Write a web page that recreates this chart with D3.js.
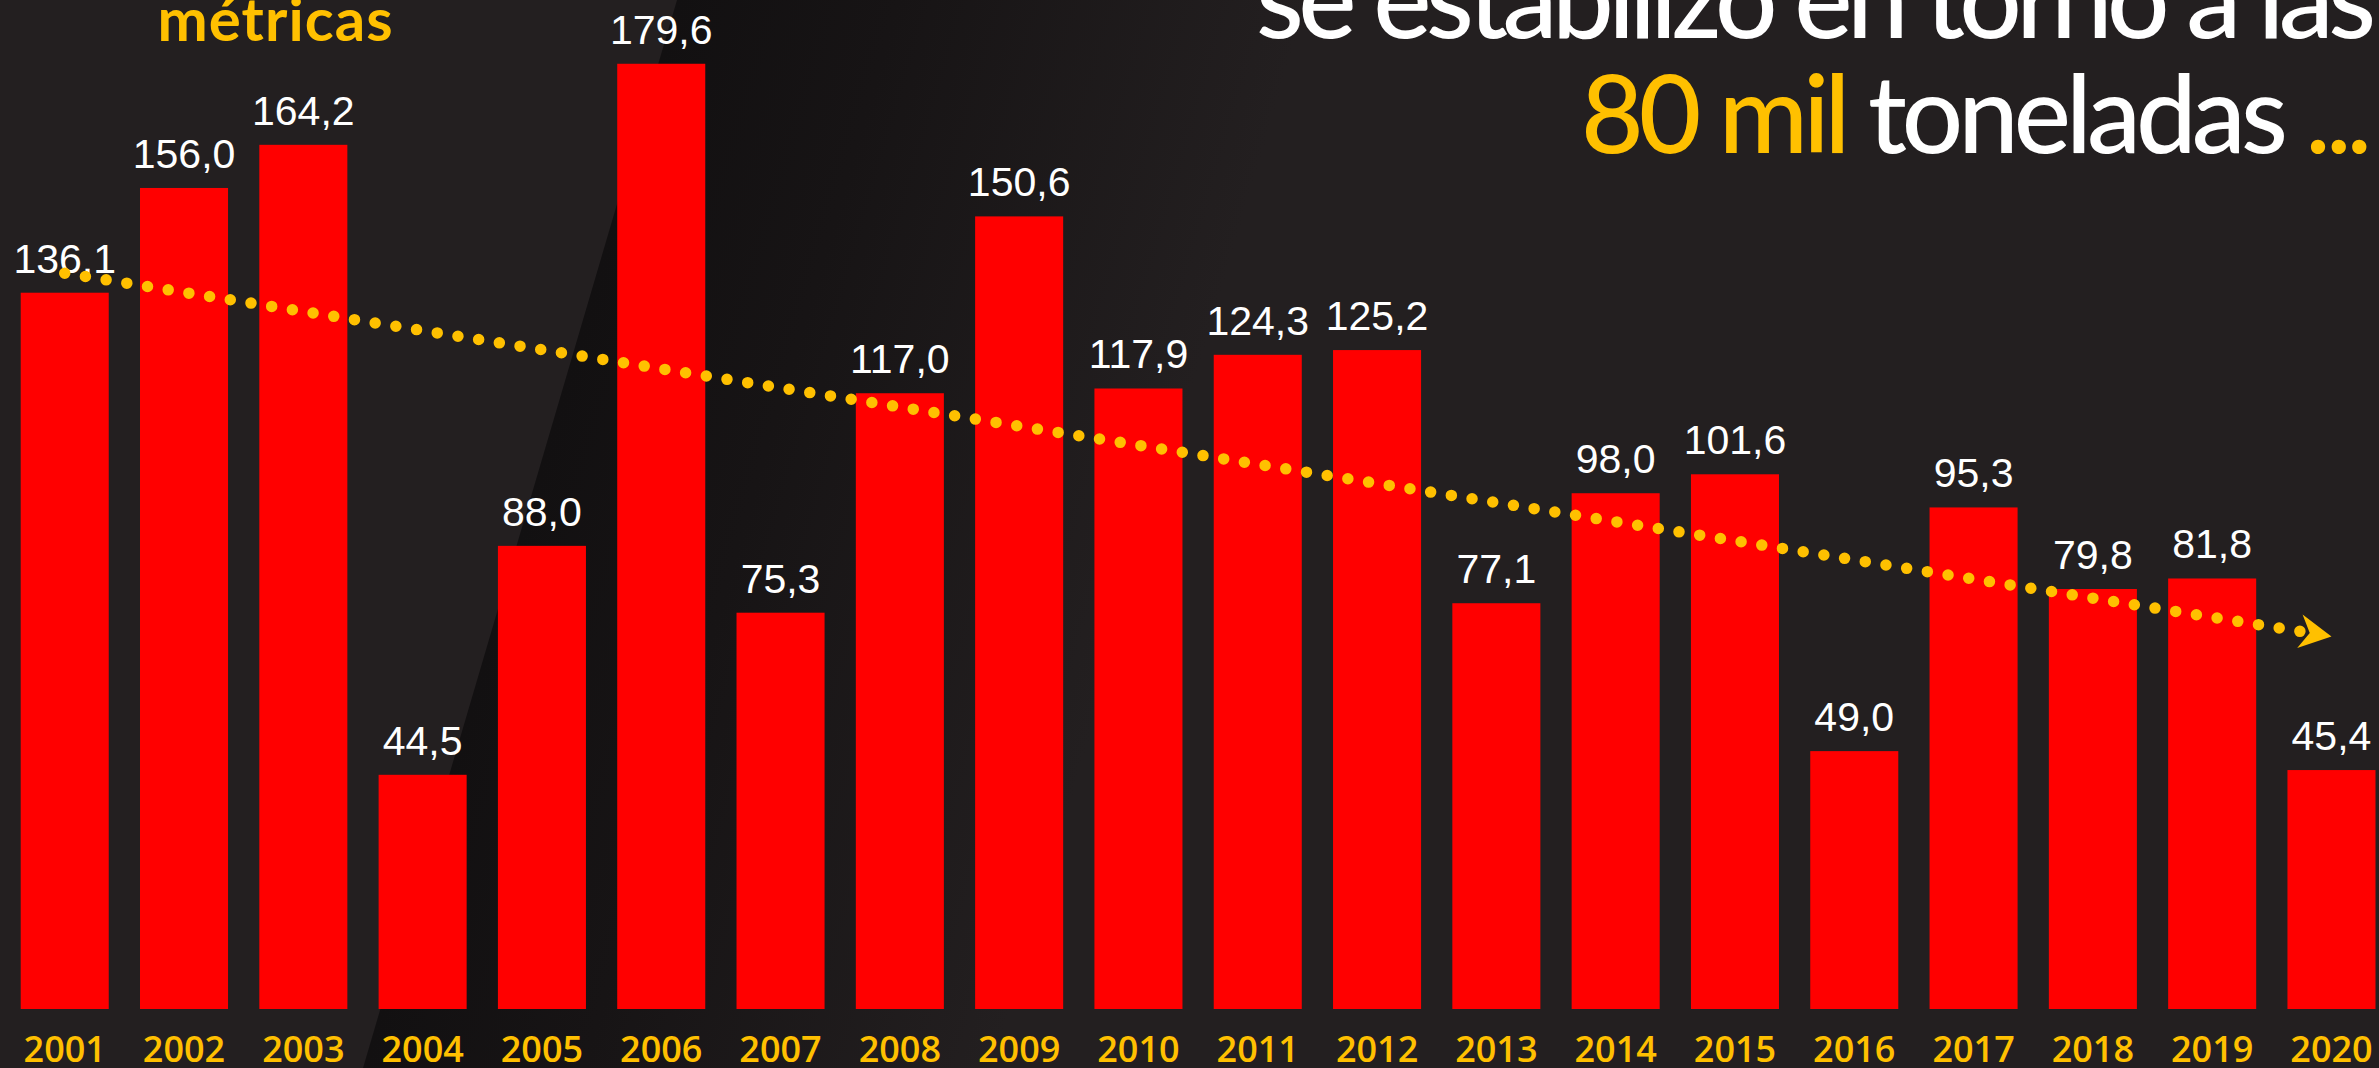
<!DOCTYPE html>
<html>
<head>
<meta charset="utf-8">
<script src="https://cdn.jsdelivr.net/npm/d3@7"></script>
<style>
  html, body { margin: 0; padding: 0; background: #231f20; overflow: hidden; }
  svg { display: block; }
</style>
</head>
<body>
<div id="chart"></div>
<script>
// Data
const years = ["2001", "2002", "2003", "2004", "2005", "2006", "2007", "2008", "2009", "2010",
               "2011", "2012", "2013", "2014", "2015", "2016", "2017", "2018", "2019", "2020"];
const values = [136.1, 156.0, 164.2, 44.5, 88.0, 179.6, 75.3, 117.0, 150.6, 117.9,
                124.3, 125.2, 77.1, 98.0, 101.6, 49.0, 95.3, 79.8, 81.8, 45.4];
// trend line (start 2001, end 2020)
const trendYears = ["2001", "2020"];
const trendValues = [139.8, 70.8];

const titleLeft = "métricas";
const titleRight1 = "se estabilizó en torno a las";
const titleRight2 = [["80 mil", "#ffc000"], [" toneladas ", "#ffffff"], ["...", "#ffc000"]];

const width = 2379, height = 1068;
const yellow = "#ffc000";

const svg = d3.select("#chart")
    .append("svg")
    .attr("width", width)
    .attr("height", height);

// background with dark diagonal band
const defs = svg.append("defs");
const grad = defs.append("linearGradient")
    .attr("id", "band")
    .attr("gradientUnits", "userSpaceOnUse")
    .attr("x1", 520).attr("y1", 534)
    .attr("x2", 1100).attr("y2", 705);
grad.append("stop").attr("offset", 0).attr("stop-color", "#121011");
grad.append("stop").attr("offset", 0.35).attr("stop-color", "#171415");
grad.append("stop").attr("offset", 1).attr("stop-color", "#231f20");

svg.append("rect")
    .attr("width", width).attr("height", height)
    .attr("fill", "#231f20");
svg.append("path")
    .attr("d", "M677,0 L1600,0 L1300,1068 L363,1068 Z")
    .attr("fill", "url(#band)");

// scales
const x = d3.scaleBand()
    .domain(years)
    .range([20.7, 2375.5])
    .paddingInner(0.262)
    .paddingOuter(0);

const y = d3.scaleLinear()
    .domain([0, 200])
    .range([1009, 1009 - 200 * 5.263]);

const locale = d3.formatLocale({ decimal: ",", thousands: ".", grouping: [3], currency: ["", ""] });
const fmt = locale.format(".1f");

// bars
svg.selectAll("rect.bar")
    .data(values)
    .enter().append("rect")
    .attr("class", "bar")
    .attr("x", (d, i) => x(years[i]))
    .attr("y", d => y(d))
    .attr("width", x.bandwidth())
    .attr("height", d => y(0) - y(d))
    .attr("fill", "#ff0000");

// value labels
svg.selectAll("text.val")
    .data(values)
    .enter().append("text")
    .attr("class", "val")
    .attr("x", (d, i) => x(years[i]) + x.bandwidth() / 2)
    .attr("y", d => y(d) - 20)
    .attr("text-anchor", "middle")
    .attr("fill", "#ffffff")
    .style("font-family", "'Liberation Sans', Arial, sans-serif")
    .style("font-size", "41px")
    .text(d => fmt(d));

// x axis labels
const xAxis = svg.append("g")
    .attr("transform", "translate(0,1062)")
    .call(d3.axisBottom(x).tickSize(0).tickPadding(0));
xAxis.select(".domain").remove();
xAxis.selectAll("text")
    .attr("dy", 0)
    .attr("fill", yellow)
    .style("font-family", "'Open Sans', sans-serif")
    .style("font-size", "36px")
    .style("font-weight", 600);

// trend line (dotted) with arrow head
const tx0 = x(trendYears[0]) + x.bandwidth() / 2, ty0 = y(trendValues[0]);
const tx1 = x(trendYears[1]) + x.bandwidth() / 2, ty1 = y(trendValues[1]);
const ang = Math.atan2(ty1 - ty0, tx1 - tx0);
const total = Math.hypot(tx1 - tx0, ty1 - ty0);
const dotLen = total - 32;
const nDots = Math.round(dotLen / 21);
const gap = dotLen / nDots;

svg.append("line")
    .attr("x1", tx0).attr("y1", ty0)
    .attr("x2", tx0 + Math.cos(ang) * dotLen)
    .attr("y2", ty0 + Math.sin(ang) * dotLen)
    .attr("stroke", yellow)
    .attr("stroke-width", 11.5)
    .attr("stroke-linecap", "round")
    .attr("stroke-dasharray", `0 ${gap}`);

svg.append("path")
    .attr("d", "M0,0 L-32,-17 L-22,0 L-32,17 Z")
    .attr("transform", `translate(${tx1},${ty1}) rotate(${ang * 180 / Math.PI})`)
    .attr("fill", yellow);

// titles (cut off at top)
svg.append("text")
    .attr("x", 275).attr("y", 41)
    .attr("text-anchor", "middle")
    .attr("fill", yellow)
    .attr("textLength", 235)
    .attr("lengthAdjust", "spacing")
    .style("font-family", "Lato, sans-serif")
    .style("font-size", "60px")
    .style("font-weight", 700)
    .text(titleLeft);

svg.append("text")
    .attr("x", 2376).attr("y", 38)
    .attr("text-anchor", "end")
    .attr("fill", "#ffffff")
    .attr("textLength", 1120)
    .attr("lengthAdjust", "spacing")
    .style("font-family", "Lato, sans-serif")
    .style("font-size", "110px")
    .style("font-weight", 500)
    .text(titleRight1);

const t2 = svg.append("text")
    .attr("x", 2372).attr("y", 153)
    .attr("text-anchor", "end")
    .attr("textLength", 791)
    .attr("lengthAdjust", "spacing")
    .style("font-family", "Lato, sans-serif")
    .style("font-size", "108px")
    .style("font-weight", 500)
    .attr("xml:space", "preserve");
t2.selectAll("tspan")
    .data(titleRight2)
    .enter().append("tspan")
    .attr("fill", d => d[1])
    .text(d => d[0]);
</script>
</body>
</html>
